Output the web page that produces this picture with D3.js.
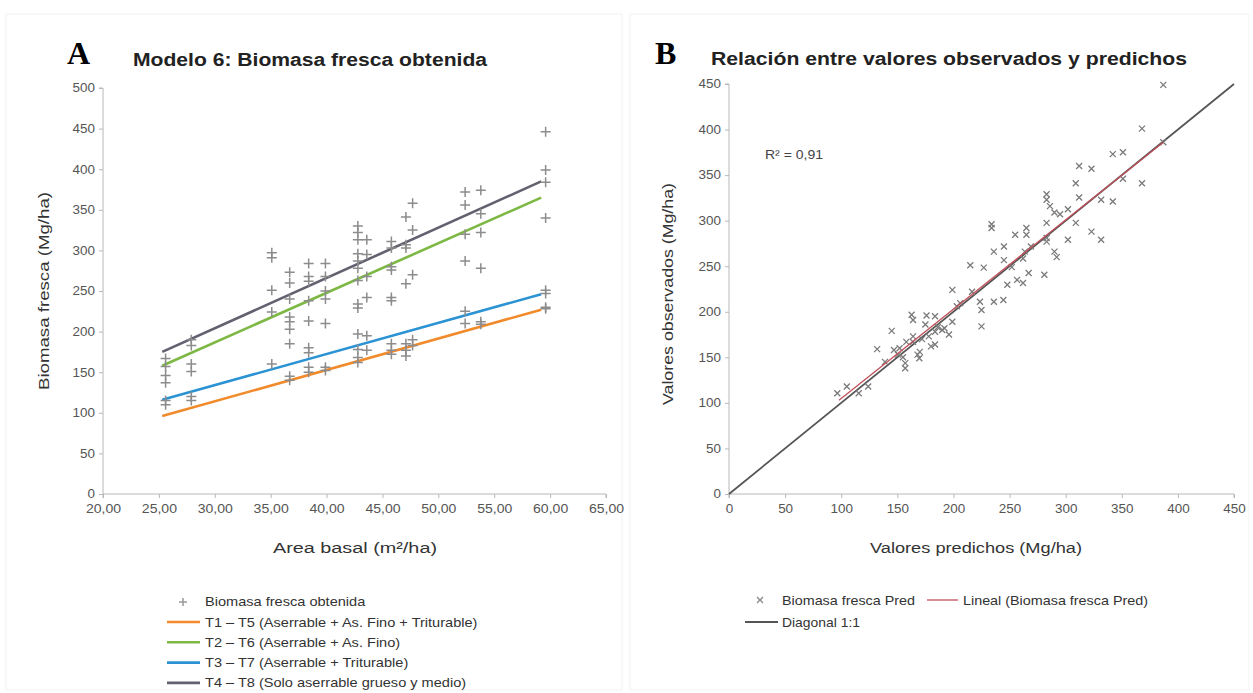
<!DOCTYPE html>
<html>
<head>
<meta charset="utf-8">
<script src="https://cdn.jsdelivr.net/npm/d3@7"></script>
<style>
  body { margin: 0; background: #fff; }
  svg { display: block; font-family: "Liberation Sans", Arial, sans-serif; }
  .tick text { fill: #555; font-size: 12px; }
  .axis path, .axis line { stroke: #b8b8b8; }
</style>
</head>
<body>
<svg id="chart" width="1253" height="693"></svg>
<script>
// ---- Panel A data: basal area (m2/ha) vs fresh biomass (Mg/ha)
const areaBasal = [25.6, 27.9, 35.1, 36.7, 38.4, 39.9, 42.8, 43.6, 45.8, 47.1, 47.7, 52.4, 53.8, 59.6];
const biomasaObs = [
    [167, 157, 146, 137, 115, 110],
    [190, 183, 160, 151, 120, 115],
    [297, 291, 251, 224, 160],
    [273, 260, 240, 218, 212, 203, 185, 145, 140],
    [284, 268, 262, 238, 213, 180, 174, 156, 150],
    [284, 268, 250, 240, 210, 156, 152],
    [330, 322, 313, 296, 287, 278, 263, 234, 229, 197, 178, 168, 162],
    [313, 295, 268, 242, 195, 177],
    [311, 303, 280, 276, 242, 238, 185, 177, 172],
    [341, 307, 303, 259, 185, 177, 170],
    [358, 325, 270, 190, 183],
    [372, 356, 320, 287, 225, 210],
    [374, 345, 322, 278, 212, 209],
    [446, 399, 384, 340, 251, 247, 230, 228]
];
// regression lines: [x0, y0, x1, y1]
const tratamientos = ["T1 \u2013 T5 (Aserrable + As. Fino + Triturable)", "T2 \u2013 T6 (Aserrable + As. Fino)",
    "T3 \u2013 T7 (Aserrable + Triturable)", "T4 \u2013 T8 (Solo aserrable grueso y medio)"];
const lineasA = [
    [25.3, 96, 59.2, 227],
    [25.3, 158, 59.2, 365],
    [25.3, 116, 59.2, 246],
    [25.3, 175, 59.2, 385]
];
const coloresA = ["#f18a2b", "#7cb843", "#2b93d3", "#63606f"];
const ticksA_x = [20, 25, 30, 35, 40, 45, 50, 55, 60, 65];
const ticksA_y = [0, 50, 100, 150, 200, 250, 300, 350, 400, 450, 500];

// ---- Panel B data: predicted vs observed
const predichos = [96.5, 105, 115.6, 124, 132, 139, 145, 147, 150.5, 152, 157, 157, 162.7, 164, 164, 164, 168, 169.6,
    175, 178, 180, 183.6, 183.6, 183.6, 192, 196, 199, 199, 203, 206, 216.6, 223.6, 225, 225, 236, 244.5, 248,
    256.7, 262, 267, 281, 387, 368, 387, 342, 351, 312, 323, 309, 368, 351, 312, 331.6, 342, 283, 283, 286, 290,
    295, 302, 309, 283, 234, 234, 255, 265, 265, 283, 283, 302, 323, 331.6, 263.6, 269, 290, 292, 236, 245, 245,
    252, 262, 227, 215, 172, 186, 158, 155, 170, 176, 190];
const observados = [110.6, 118, 110.6, 118, 159, 145, 179, 158, 153, 160, 143.6, 138, 196.7, 191, 173, 167, 153, 149,
    186, 173, 162, 195, 178, 164, 182, 175, 189, 224, 206, 209.5, 222, 211, 202, 184, 211, 213, 229.7,
    235, 231.5, 242.5, 240.7, 449, 401, 386, 373, 375, 360, 357, 341, 341, 346, 325.5, 323, 321, 329, 323, 316, 309,
    307, 312.5, 297.6, 297.6, 296, 292, 284.6, 292, 284.6, 281, 277, 279, 288, 279, 266, 271.6, 266, 260, 266, 271.6, 256.7,
    249, 258.5, 248.5, 251, 170, 183, 167, 150, 156, 196, 180];
const lineal = [98, 103, 387, 386];
const diagonal = [0, 0, 450, 450];
const ticksB = [0, 50, 100, 150, 200, 250, 300, 350, 400, 450];

const svg = d3.select("#chart");
const fmt = d => d.toFixed(2).replace(".", ",");

// the reference glyphs are wider than Liberation Sans: stretch text to fit
function widen(sel, f) {
    sel.each(function () {
        const n = this.getComputedTextLength();
        d3.select(this).attr("textLength", n * f).attr("lengthAdjust", "spacingAndGlyphs");
    });
}
function fit(sel, w) {
    sel.attr("textLength", w).attr("lengthAdjust", "spacingAndGlyphs");
}

// faint panel frames
svg.append("rect").attr("x", 6).attr("y", 14).attr("width", 616).attr("height", 676)
    .attr("fill", "none").attr("stroke", "#f2f2f2");
svg.append("rect").attr("x", 630).attr("y", 14).attr("width", 619).attr("height", 676)
    .attr("fill", "none").attr("stroke", "#f2f2f2");

// ================= Panel A =================
const xA = d3.scaleLinear().domain([20, 65]).range([103, 606]);
const yA = d3.scaleLinear().domain([0, 500]).range([494, 88]);

const yAxA = svg.append("g").attr("class", "axis")
    .attr("transform", "translate(103,0)")
    .call(d3.axisLeft(yA).tickValues(ticksA_y).tickSize(4).tickPadding(4))
    .call(g => g.select(".domain").attr("d", `M-4,${yA(500)}H0V${yA(0)}`));
const xAxA = svg.append("g").attr("class", "axis")
    .attr("transform", "translate(0,494)")
    .call(d3.axisBottom(xA).tickValues(ticksA_x).tickFormat(fmt).tickSize(4).tickPadding(6))
    .call(g => g.select(".domain").attr("d", `M${xA(20)},4V0H${xA(65)}V4`));
widen(yAxA.selectAll(".tick text"), 1.12);
widen(xAxA.selectAll(".tick text"), 1.17);

// regression lines
lineasA.forEach((l, i) => {
    svg.append("line")
        .attr("x1", xA(l[0])).attr("y1", yA(l[1]))
        .attr("x2", xA(l[2])).attr("y2", yA(l[3]))
        .attr("stroke", coloresA[i]).attr("stroke-width", 2.6);
});

// observed points
const ptsA = [];
areaBasal.forEach((x, i) => biomasaObs[i].forEach(y => ptsA.push([x, y])));
svg.append("g").selectAll("path").data(ptsA).join("path")
    .attr("d", d => `M${xA(d[0]) - 5},${yA(d[1])}h10M${xA(d[0])},${yA(d[1]) - 5}v10`)
    .attr("stroke", "#8c8c8c").attr("stroke-width", 1.5).attr("fill", "none");

svg.append("text").attr("x", 67).attr("y", 64)
    .style("font-family", "'Liberation Serif', 'Times New Roman', serif")
    .style("font-weight", "bold").style("font-size", "32px").text("A");
svg.append("text").attr("x", 310).attr("y", 66).attr("text-anchor", "middle")
    .style("font-weight", "bold").style("font-size", "18px").attr("fill", "#222")
    .text("Modelo 6: Biomasa fresca obtenida").call(fit, 354);
svg.append("text").attr("transform", "translate(49,291) rotate(-90)").attr("text-anchor", "middle")
    .style("font-size", "15.5px").attr("fill", "#333").text("Biomasa fresca (Mg/ha)").call(fit, 198);
svg.append("text").attr("x", 355).attr("y", 553).attr("text-anchor", "middle")
    .style("font-size", "15.5px").attr("fill", "#333").text("Area basal (m\u00b2/ha)").call(fit, 164);

// legend A
const legA = svg.append("g").style("font-size", "13px");
legA.append("path").attr("d", "M179,602h8M183,598v8").attr("stroke", "#999").attr("stroke-width", 1.5);
legA.append("text").attr("x", 205).attr("y", 606).attr("fill", "#333").text("Biomasa fresca obtenida");
tratamientos.forEach((t, i) => {
    const yy = 622 + i * 20.3;
    legA.append("line").attr("x1", 167).attr("x2", 200).attr("y1", yy).attr("y2", yy)
        .attr("stroke", coloresA[i]).attr("stroke-width", 2.6);
    legA.append("text").attr("x", 205).attr("y", yy + 4.5).attr("fill", "#333").text(t);
});
widen(legA.selectAll("text"), 1.12);

// ================= Panel B =================
const xB = d3.scaleLinear().domain([0, 450]).range([729, 1234]);
const yB = d3.scaleLinear().domain([0, 450]).range([494, 84]);

const yAxB = svg.append("g").attr("class", "axis")
    .attr("transform", "translate(729,0)")
    .call(d3.axisLeft(yB).tickValues(ticksB).tickSize(4).tickPadding(4))
    .call(g => g.select(".domain").attr("d", `M-4,${yB(450)}H0V${yB(0)}`));
const xAxB = svg.append("g").attr("class", "axis")
    .attr("transform", "translate(0,494)")
    .call(d3.axisBottom(xB).tickValues(ticksB).tickSize(4).tickPadding(6))
    .call(g => g.select(".domain").attr("d", `M${xB(0)},4V0H${xB(450)}V4`));
widen(yAxB.selectAll(".tick text"), 1.12);
widen(xAxB.selectAll(".tick text"), 1.12);

svg.append("line")
    .attr("x1", xB(diagonal[0])).attr("y1", yB(diagonal[1]))
    .attr("x2", xB(diagonal[2])).attr("y2", yB(diagonal[3]))
    .attr("stroke", "#555").attr("stroke-width", 1.8);

const ptsB = predichos.map((p, i) => [p, observados[i]]);
svg.append("g").selectAll("path").data(ptsB).join("path")
    .attr("d", d => {
        const cx = xB(d[0]), cy = yB(d[1]);
        return `M${cx - 3},${cy - 3}l6,6M${cx - 3},${cy + 3}l6,-6`;
    })
    .attr("stroke", "#7a7a7a").attr("stroke-width", 1.3).attr("fill", "none");

svg.append("line")
    .attr("x1", xB(lineal[0])).attr("y1", yB(lineal[1]))
    .attr("x2", xB(lineal[2])).attr("y2", yB(lineal[3]))
    .attr("stroke", "#c0505a").attr("stroke-width", 1.3);

svg.append("text").attr("x", 765).attr("y", 159)
    .style("font-size", "13px").attr("fill", "#444").text("R\u00b2 = 0,91").call(fit, 58);

svg.append("text").attr("x", 655).attr("y", 64)
    .style("font-family", "'Liberation Serif', 'Times New Roman', serif")
    .style("font-weight", "bold").style("font-size", "32px").text("B");
svg.append("text").attr("x", 949).attr("y", 65).attr("text-anchor", "middle")
    .style("font-weight", "bold").style("font-size", "18px").attr("fill", "#222")
    .text("Relaci\u00f3n entre valores observados y predichos").call(fit, 476);
svg.append("text").attr("transform", "translate(673,294) rotate(-90)").attr("text-anchor", "middle")
    .style("font-size", "15.5px").attr("fill", "#333").text("Valores observados (Mg/ha)").call(fit, 222);
svg.append("text").attr("x", 976).attr("y", 553).attr("text-anchor", "middle")
    .style("font-size", "15.5px").attr("fill", "#333").text("Valores predichos (Mg/ha)").call(fit, 212);

// legend B
const legB = svg.append("g").style("font-size", "13px").attr("fill", "#333");
legB.append("path").attr("d", "M757,597l6,6M757,603l6,-6").attr("stroke", "#888").attr("stroke-width", 1.3);
legB.append("text").attr("x", 782).attr("y", 604.5).text("Biomasa fresca Pred").call(fit, 133);
legB.append("line").attr("x1", 927).attr("x2", 958).attr("y1", 600).attr("y2", 600)
    .attr("stroke", "#c0505a").attr("stroke-width", 1.3);
legB.append("text").attr("x", 963).attr("y", 604.5).text("Lineal (Biomasa fresca Pred)").call(fit, 185);
legB.append("line").attr("x1", 745).attr("x2", 778).attr("y1", 622).attr("y2", 622)
    .attr("stroke", "#555").attr("stroke-width", 1.8);
legB.append("text").attr("x", 782).attr("y", 626.5).text("Diagonal 1:1").call(fit, 78);
</script>
</body>
</html>
